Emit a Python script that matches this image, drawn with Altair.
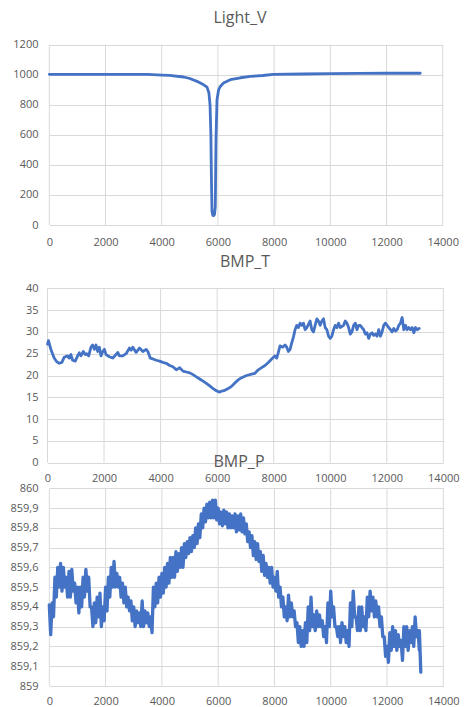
import altair as alt
import pandas as pd

titles = ["Light_V", "BMP_T", "BMP_P"]

# Panel 1: Light_V
light_x = [0, 500, 1000, 1500, 2000, 2500, 3000, 3500, 4000, 4270, 4780, 5000, 5256,
           5493, 5612, 5680, 5720, 5750, 5770, 5790, 5820, 5847, 5880, 5907, 5932, 5968,
           6025, 6085, 6200, 6441, 6800, 7153, 7600, 7972, 9000, 10000, 11000, 12000, 13200]
light_v = [1003, 1003, 1003, 1003, 1003, 1003, 1003, 1002, 998, 996, 985, 975, 956,
           933, 918, 880, 800, 600, 300, 90, 64, 62, 70, 122, 567, 833,
           900, 922, 945, 967, 980, 989, 995, 1002, 1005, 1008, 1009, 1010, 1010]

# Panel 2: BMP_T
t_x = [0, 35, 118, 178, 237, 320, 414, 509, 592, 710, 769, 828, 888, 982, 1065, 1124, 1183,
       1266, 1337, 1385, 1456, 1538, 1598, 1657, 1716, 1775, 1834, 1893, 1953, 2012, 2071,
       2189, 2308, 2426, 2485, 2544, 2663, 2781, 2899, 2959, 3018, 3136, 3254, 3373, 3491,
       3550, 3633, 3728, 3846, 3964, 4083, 4201, 4320, 4438, 4556, 4675, 4793, 4911, 5030,
       5148, 5266, 5385, 5503, 5621, 5740, 5858, 5976, 6071, 6154, 6272, 6391, 6509, 6627,
       6746, 6864, 7041, 7219, 7337, 7456, 7574, 7692, 7811, 7929, 8047, 8107, 8166, 8225,
       8320, 8402, 8462, 8521, 8580, 8639, 8698, 8757, 8817, 8876, 8935, 8994, 9053, 9112,
       9172, 9290, 9349, 9408, 9467, 9527, 9586, 9645, 9704, 9763, 9822, 9882, 9941, 10000,
       10059, 10118, 10178, 10237, 10296, 10355, 10473, 10533, 10592, 10651, 10710, 10769,
       10828, 10888, 10947, 11006, 11065, 11124, 11183, 11243, 11302, 11361, 11420, 11479,
       11538, 11598, 11657, 11716, 11775, 11834, 11893, 11953, 12012, 12071, 12130, 12189,
       12249, 12308, 12367, 12426, 12485, 12544, 12604, 12663, 12722, 12781, 12840, 12899,
       12959, 13018, 13077, 13150]
t_v = [27.2, 28, 26, 25, 24, 23.2, 22.8, 23, 24.2, 24.5, 24, 24.8, 23.5, 23.3, 24.5, 25.2, 24.5,
       25.5, 24.8, 25, 24.5, 26.5, 27, 26, 27, 25.5, 26.5, 24.5, 25.5, 26, 24.8,
       24.3, 24, 24.8, 25.3, 24.5, 24.5, 25, 26.3, 25.8, 26.5, 25.3, 26.3, 25.5, 26,
       25.5, 24, 23.8, 23.5, 23.3, 23, 22.8, 22.3, 22, 21.3, 21.8, 21, 20.8, 20.6,
       20.2, 19.7, 19.2, 18.7, 18.2, 17.6, 17, 16.5, 16.2, 16.4, 16.6, 17, 17.5, 18.3,
       19, 19.5, 20, 20.3, 20.5, 21.3, 21.8, 22.3, 23, 23.8, 24.5, 24, 25.3, 26.8,
       26.5, 27, 26.5, 25.5, 26, 27.5, 28.8, 30.5, 31.5, 31, 32, 31.5, 32, 30.5,
       31, 32.5, 30.5, 30, 31.5, 33, 32.5, 31.5, 32.5, 33, 31, 30.5, 29, 28.5,
       29, 30.5, 31.5, 31, 32, 31, 31.5, 32.5, 32, 31, 29.5, 30,
       31.5, 32, 30.5, 31.5, 31.5, 31, 30.5, 29.5, 29.8, 28.5, 29.5, 29.8,
       29.2, 29.5, 29, 30.5, 29, 30, 31.5, 32, 31.5, 31, 30.5, 30,
       30.8, 30.2, 30.5, 31.5, 32, 33.3, 30.5, 31.5, 30.5, 31, 30.5, 31,
       29.8, 31, 30.5, 30.8]

# Panel 3: BMP_P (upper and lower edge of the noisy band)
p_x = list(range(0, 13101, 100)) + [13150]
p_hi = [859.41, 859.42, 859.55, 859.60, 859.62, 859.60, 859.55, 859.58, 859.59, 859.52,
        859.50, 859.50, 859.55, 859.59, 859.55, 859.40, 859.42, 859.45, 859.47, 859.40,
        859.50, 859.55, 859.60, 859.63, 859.57, 859.55, 859.52, 859.50, 859.45, 859.43,
        859.40, 859.38, 859.37, 859.43, 859.38, 859.37, 859.35, 859.50, 859.52, 859.55,
        859.57, 859.60, 859.62, 859.65, 859.65, 859.68, 859.67, 859.70, 859.72, 859.73,
        859.75, 859.76, 859.80, 859.82, 859.87, 859.90, 859.92, 859.93, 859.94, 859.94,
        859.90, 859.88, 859.89, 859.88, 859.87, 859.86, 859.87, 859.86, 859.87, 859.85,
        859.82, 859.78, 859.76, 859.73, 859.72, 859.68, 859.66, 859.62, 859.60, 859.60,
        859.55, 859.58, 859.50, 859.45, 859.40, 859.46, 859.42, 859.38, 859.32, 859.30,
        859.28, 859.32, 859.40, 859.45, 859.36, 859.38, 859.36, 859.33, 859.30, 859.42,
        859.48, 859.40, 859.30, 859.30, 859.32, 859.30, 859.28, 859.42, 859.48, 859.35,
        859.40, 859.40, 859.35, 859.45, 859.48, 859.45, 859.43, 859.40, 859.35, 859.25,
        859.20, 859.27, 859.30, 859.28, 859.26, 859.23, 859.30, 859.30, 859.28, 859.30,
        859.35, 859.28, 859.28]
p_lo = [859.26, 859.35, 859.45, 859.50, 859.48, 859.50, 859.45, 859.45, 859.48, 859.42,
        859.37, 859.40, 859.45, 859.48, 859.40, 859.30, 859.32, 859.35, 859.30, 859.33,
        859.38, 859.45, 859.50, 859.50, 859.50, 859.45, 859.42, 859.40, 859.38, 859.33,
        859.30, 859.32, 859.30, 859.30, 859.32, 859.30, 859.27, 859.40, 859.42, 859.45,
        859.47, 859.50, 859.52, 859.55, 859.55, 859.58, 859.60, 859.60, 859.65, 859.67,
        859.68, 859.70, 859.72, 859.75, 859.80, 859.83, 859.85, 859.85, 859.85, 859.84,
        859.82, 859.81, 859.82, 859.80, 859.80, 859.80, 859.78, 859.79, 859.78, 859.77,
        859.73, 859.70, 859.66, 859.64, 859.63, 859.58, 859.56, 859.55, 859.52, 859.50,
        859.48, 859.45, 859.40, 859.35, 859.33, 859.35, 859.35, 859.30, 859.22, 859.20,
        859.20, 859.22, 859.28, 859.30, 859.28, 859.30, 859.30, 859.25, 859.22, 859.30,
        859.35, 859.30, 859.25, 859.22, 859.25, 859.22, 859.20, 859.30, 859.35, 859.28,
        859.28, 859.30, 859.28, 859.35, 859.38, 859.35, 859.35, 859.30, 859.25, 859.15,
        859.12, 859.18, 859.20, 859.18, 859.20, 859.13, 859.20, 859.18, 859.22, 859.20,
        859.25, 859.18, 859.07]

x_ticks = [0, 2000, 4000, 6000, 8000, 10000, 12000, 14000]
y1_ticks = [0, 200, 400, 600, 800, 1000, 1200]
y2_ticks = [0, 5, 10, 15, 20, 25, 30, 35, 40]
y3_ticks = [859.0, 859.1, 859.2, 859.3, 859.4, 859.5, 859.6, 859.7, 859.8, 859.9, 860.0]

FONT = "Open Sans"
GREY = "#595959"
GRID = "#d9d9d9"
BLUE = "#4472C4"
H = 707

rows = []
for xv, hi, lo in zip(p_x, p_hi, p_lo):
    rows.append({"x": xv, "v": hi})
    rows.append({"x": xv + 50, "v": lo})
df_p = pd.DataFrame(rows)
df_l = pd.DataFrame({"x": light_x, "v": light_v})
df_t = pd.DataFrame({"x": t_x, "v": t_v})
df_grid = pd.DataFrame({"x": x_ticks})


def panel(df, title, xrange, yrange, ydom, yticks, axis_y_pos, xpad, label_expr,
          title_x, title_y, sw):
    xs = alt.Scale(domain=[0, 14000], range=xrange, nice=False, zero=False)
    ys = alt.Scale(domain=ydom, range=yrange, nice=False, zero=False)
    xaxis = alt.Axis(orient="bottom", offset=axis_y_pos - H, values=x_ticks, grid=False,
                     domain=False, ticks=False, tickSize=0, labelPadding=xpad, format="d",
                     labelFont=FONT, labelFontSize=11, labelColor=GREY, title=None,
                     labelFlush=False, labelOverlap=False)
    yaxis_kw = dict(orient="left", values=yticks, grid=True, gridColor=GRID, gridWidth=1,
                    domain=False, ticks=False, tickSize=0, labelPadding=11,
                    labelFont=FONT, labelFontSize=11, labelColor=GREY, title=None,
                    labelFlush=False, labelOverlap=False)
    if label_expr:
        yaxis_kw["labelExpr"] = label_expr
    else:
        yaxis_kw["format"] = "d"
    yaxis = alt.Axis(**yaxis_kw)
    vgrid = alt.Chart(df_grid).mark_rule(color=GRID, strokeWidth=1).encode(
        x=alt.X("x:Q", scale=xs, axis=xaxis),
        y=alt.datum(ydom[0], type="quantitative", scale=ys, axis=yaxis),
        y2=alt.datum(ydom[1]),
    )
    line = alt.Chart(df).mark_line(color=BLUE, strokeWidth=sw, strokeJoin="round",
                                   strokeCap="round").encode(
        x=alt.X("x:Q", scale=xs, axis=xaxis),
        y=alt.Y("v:Q", scale=ys, axis=yaxis),
    )
    ttl = alt.Chart(pd.DataFrame({"t": [title]})).mark_text(
        font=FONT, fontSize=16, color=GREY, align="center", baseline="alphabetic"
    ).encode(x=alt.value(title_x), y=alt.value(title_y), text="t:N")
    return alt.layer(vgrid, line, ttl)


p1 = panel(df_l, titles[0], [0.3, 393.7], [225, 44.7], [0, 1200], y1_ticks, 225, 11, None,
           191, 22.5, 2.8)
p2 = panel(df_t, titles[1], [-1.5, 394.3], [462.7, 288.3], [0, 40], y2_ticks, 462.7, 10, None,
           196, 266.5, 2.8)
p3 = panel(df_p, titles[2], [0.3, 394.3], [686, 488.3], [859, 860], y3_ticks, 686, 9,
           "abs(datum.value - round(datum.value)) < 0.001 ? format(datum.value, '.0f') : replace(format(datum.value, '.1f'), '.', ',')",
           190, 466.5, 3.3)

chart = alt.layer(p1, p2, p3).resolve_scale(x="independent", y="independent").resolve_axis(
    x="independent", y="independent"
).properties(
    width=394, height=H,
    padding={"left": 49, "right": 22, "top": 0, "bottom": 0},
    autosize=alt.AutoSizeParams(type="none"),
    background="white",
).configure_view(stroke=None)

chart.save("out.html", embed_options={"renderer": "svg", "actions": False})
